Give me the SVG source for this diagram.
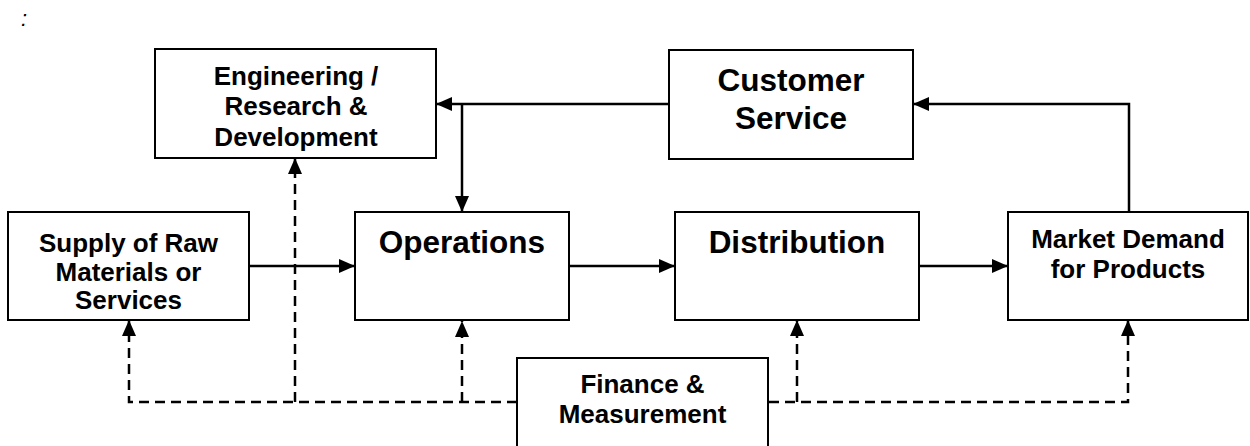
<svg xmlns="http://www.w3.org/2000/svg" width="1250" height="446" viewBox="0 0 1250 446">
<style>
  .box { fill: #ffffff; stroke: #000000; stroke-width: 2; }
  .lbl { font-family: "Liberation Sans", Arial, sans-serif; font-weight: bold; font-size: 26px; fill: #000000; text-anchor: middle; }
  .big { font-size: 31.5px; }
  .conn { fill: none; stroke: #000000; stroke-width: 2.5; }
  .dash { stroke-dasharray: 10 6; }
</style>
<defs>
  <marker id="ah" viewBox="0 0 16 14" refX="16" refY="7" markerWidth="16" markerHeight="14" markerUnits="userSpaceOnUse" orient="auto">
    <path d="M0,0 L16,7 L0,14 z" fill="#000000"/>
  </marker>
</defs>
<rect width="1250" height="446" fill="#ffffff"/>
<text x="21" y="26" font-family="Liberation Sans, Arial, sans-serif" font-style="italic" font-size="22" fill="#000000">:</text>

<g id="connectors">
  <path class="conn" d="M249,266 L355,266" marker-end="url(#ah)"/>
  <path class="conn" d="M569,266 L675,266" marker-end="url(#ah)"/>
  <path class="conn" d="M919,266 L1008,266" marker-end="url(#ah)"/>
  <path class="conn" d="M1129,212 L1129,104 L913,104" marker-end="url(#ah)"/>
  <path class="conn" d="M669,104 L436,104" marker-end="url(#ah)"/>
  <path class="conn" d="M462,104 L462,212" marker-end="url(#ah)"/>
  <path class="conn dash" d="M517,402 L129,402 L129,320" marker-end="url(#ah)"/>
  <path class="conn dash" d="M295,402 L295,158" marker-end="url(#ah)"/>
  <path class="conn dash" d="M462,402 L462,321" marker-end="url(#ah)"/>
  <path class="conn dash" d="M769,402 L1128,402 L1128,320" marker-end="url(#ah)"/>
  <path class="conn dash" d="M797,402 L797,320" marker-end="url(#ah)"/>
</g>

<g id="engineering">
  <rect class="box" x="155" y="49" width="281" height="109"/>
  <text class="lbl" x="296" y="85">Engineering /</text>
  <text class="lbl" x="296" y="115">Research &amp;</text>
  <text class="lbl" x="296" y="146">Development</text>
</g>
<g id="customer-service">
  <rect class="box" x="669" y="50" width="244" height="109"/>
  <text class="lbl big" x="791" y="91">Customer</text>
  <text class="lbl big" x="791" y="129">Service</text>
</g>
<g id="supply">
  <rect class="box" x="8" y="212" width="241" height="108"/>
  <text class="lbl" x="128.5" y="252">Supply of Raw</text>
  <text class="lbl" x="128.5" y="280.5">Materials or</text>
  <text class="lbl" x="128.5" y="309">Services</text>
</g>
<g id="operations">
  <rect class="box" x="355" y="212" width="214" height="108"/>
  <text class="lbl big" x="462" y="253">Operations</text>
</g>
<g id="distribution">
  <rect class="box" x="675" y="212" width="244" height="108"/>
  <text class="lbl big" x="797" y="253">Distribution</text>
</g>
<g id="market-demand">
  <rect class="box" x="1008" y="212" width="240" height="108"/>
  <text class="lbl" x="1128" y="248">Market Demand</text>
  <text class="lbl" x="1128" y="278">for Products</text>
</g>
<g id="finance">
  <rect class="box" x="517" y="358" width="251" height="100"/>
  <text class="lbl" x="642.5" y="393">Finance &amp;</text>
  <text class="lbl" x="642.5" y="423">Measurement</text>
</g>
</svg>
